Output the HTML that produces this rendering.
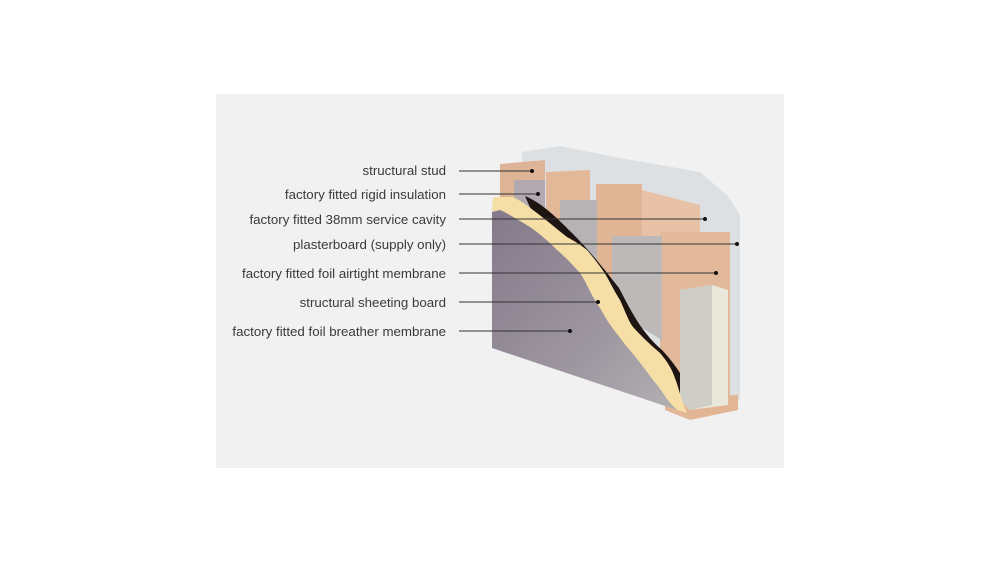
<!DOCTYPE html>
<html><head><style>
html,body{margin:0;padding:0;background:#fff;}
svg{display:block;}
text{font-family:"Liberation Sans",sans-serif;font-size:13.3px;fill:#3a3a3a;}
</style></head><body>
<svg width="1000" height="563" viewBox="0 0 1000 563">
<defs>
<linearGradient id="fg" x1="0" y1="0" x2="1" y2="1">
<stop offset="0" stop-color="#85798a"/><stop offset="0.6" stop-color="#9d96a0"/><stop offset="1" stop-color="#b3b0b2"/>
</linearGradient>
</defs>
<rect x="216" y="94" width="568" height="374" fill="#f1f1f1"/>
<polygon points="522,152 560,146 620,158 700,172 728,196 740,215 740,400 700,405 520,250" fill="#dde0e3"/>
<polygon points="500,164 545,160 545,300 500,260" fill="#deb496"/>
<polygon points="546,172 590,170 590,330 546,300" fill="#e2b899"/>
<polygon points="596,184 642,184 642,360 596,335" fill="#dfb596"/>
<polygon points="642,190 700,205 700,240 642,240" fill="#e8c2a6"/>
<polygon points="660,232 730,232 730,400 660,380" fill="#e3b99b"/>
<polygon points="514,180 545,180 545,235 514,215" fill="#b2aab0"/>
<polygon points="560,200 597,200 597,275 560,250" fill="#b7b3b5"/>
<polygon points="612,236 662,236 662,340 612,310" fill="#bcb9b8"/>
<!-- black gaps -->
<g transform="translate(12,-2)">
<path d="M513,198 C530,205 545,220 560,235 C580,255 595,275 607,290 C620,315 630,335 650,352 C665,368 675,385 685,405 L672,405 C660,385 645,365 625,345 C605,320 595,300 580,280 C565,262 545,245 525,225 Z" fill="#1e1412"/>
</g>
<polygon points="665,398 738,395 738,410 690,420 665,410" fill="#e2b595"/>
<polygon points="680,290 712,285 728,290 728,405 690,410 680,400" fill="#e9e8da"/>
<polygon points="680,290 712,285 712,405 690,410 680,400" fill="#cfcec6"/>
<path d="M493,197 L513,197 C525,203 530,208 537,213 C550,223 558,230 567,237 C578,243 582,246 587,250 C597,262 603,270 607,277 C613,288 616,294 620,300 C626,313 628,320 633,327 C645,340 652,346 660,353 C666,360 670,366 673,373 C678,385 680,395 683,403 L687,413 L677,410 L670,403 C662,392 660,388 653,380 C642,365 635,356 627,347 C618,335 612,328 607,320 C600,308 597,303 593,297 C588,288 585,280 580,273 C570,262 565,257 557,250 C548,241 540,234 530,227 C515,218 505,212 500,210 L492,212 Z" fill="#f6dfa6"/>
<path d="M492,212 L500,210 C505,212 515,218 530,227 C540,234 548,241 557,250 C565,257 570,262 580,273 C585,280 588,288 593,297 C597,303 600,308 607,320 C612,328 618,335 627,347 C635,356 642,365 653,380 C660,388 662,392 670,403 L677,410 L492,348 Z" fill="url(#fg)"/>
<g text-anchor="end">
<text x="446" y="175">structural stud</text>
<text x="446" y="199">factory fitted rigid insulation</text>
<text x="446" y="224">factory fitted 38mm service cavity</text>
<text x="446" y="249">plasterboard (supply only)</text>
<text x="446" y="278">factory fitted foil airtight membrane</text>
<text x="446" y="307">structural sheeting board</text>
<text x="446" y="336">factory fitted foil breather membrane</text>
</g>
<g stroke="#333" stroke-width="1">
<line x1="459" y1="171" x2="532" y2="171"/>
<line x1="459" y1="194" x2="538" y2="194"/>
<line x1="459" y1="219" x2="705" y2="219"/>
<line x1="459" y1="244" x2="737" y2="244"/>
<line x1="459" y1="273" x2="716" y2="273"/>
<line x1="459" y1="302" x2="598" y2="302"/>
<line x1="459" y1="331" x2="570" y2="331"/>
</g>
<g fill="#111">
<circle cx="532" cy="171" r="2"/><circle cx="538" cy="194" r="2"/><circle cx="705" cy="219" r="2"/>
<circle cx="737" cy="244" r="2"/><circle cx="716" cy="273" r="2"/><circle cx="598" cy="302" r="2"/><circle cx="570" cy="331" r="2"/>
</g>
</svg>
</body></html>
